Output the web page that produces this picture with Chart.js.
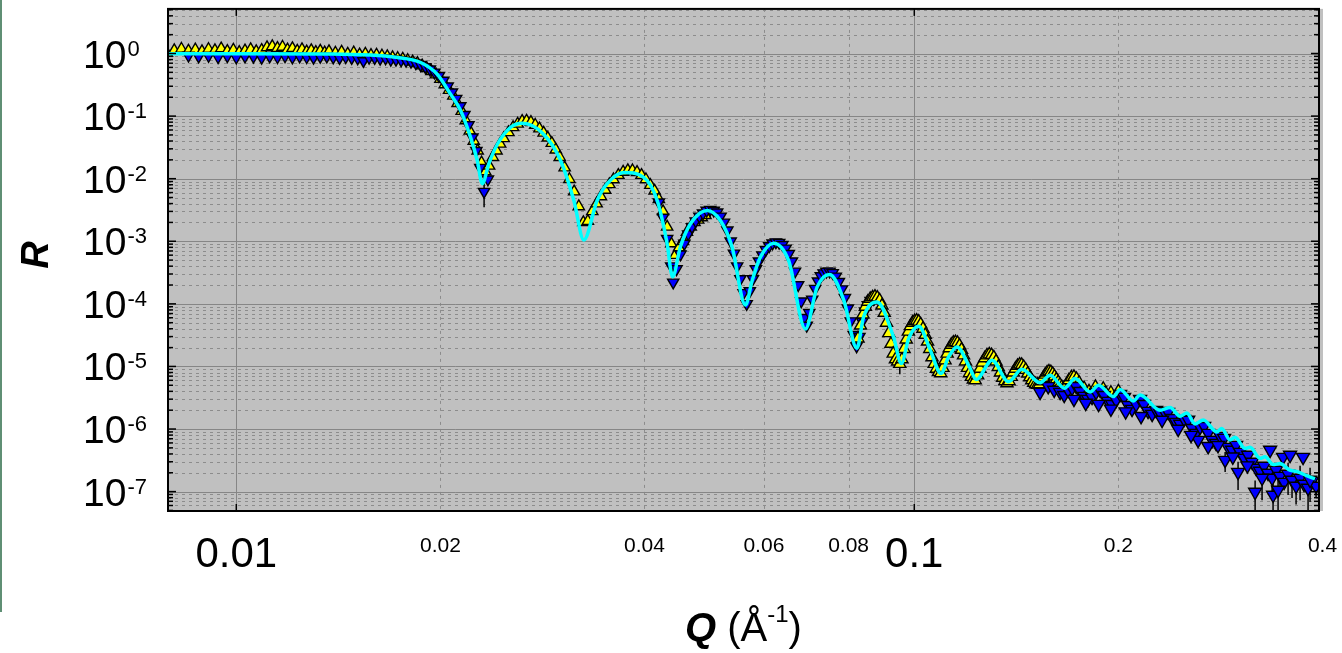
<!DOCTYPE html>
<html>
<head>
<meta charset="utf-8">
<script src="https://cdn.jsdelivr.net/npm/chart.js@4.4.1/dist/chart.umd.min.js"></script>
<style>
  html, body { margin: 0; padding: 0; background: #fff; }
</style>
</head>
<body>
<canvas id="reflChart" width="1342" height="653"></canvas>
<script>

// -------------------------
//   REFLECTIVITY RUNS
// -------------------------

// run 1 (yellow, low angle)
const yellowAQ = [0.0079, 0.0081, 0.0083, 0.0085, 0.0087, 0.0089, 0.0091, 0.0093, 0.0095, 0.0097,
    0.0099, 0.0101, 0.0103, 0.0105, 0.0107, 0.0109, 0.0111, 0.0113, 0.0115, 0.0117,
    0.0119, 0.0121, 0.0123, 0.0125, 0.0127, 0.0129, 0.0131, 0.0133, 0.0135, 0.0137,
    0.0140, 0.0143, 0.0146, 0.0149, 0.0152, 0.0155, 0.0158, 0.0161, 0.0164, 0.0167,
    0.0170, 0.0173, 0.0176, 0.0179, 0.0182, 0.0185, 0.0188, 0.0191, 0.0194, 0.0197,
    0.0200, 0.0203, 0.0206, 0.0209, 0.0212, 0.0215, 0.0218, 0.0221, 0.0224, 0.0227,
    0.0230, 0.0233, 0.0236, 0.0239, 0.0242, 0.0245, 0.0248, 0.0252, 0.0256, 0.0260,
    0.0264, 0.0268, 0.0272, 0.0276, 0.0280, 0.0284, 0.0288, 0.0292, 0.0296, 0.0300,
    0.0305, 0.0310, 0.0315, 0.0320, 0.0325, 0.0330, 0.0335, 0.0340, 0.0345, 0.0350,
    0.0355, 0.0360, 0.0366, 0.0372, 0.0378, 0.0384, 0.0390, 0.0396, 0.0402, 0.0408,
    0.0414, 0.0420, 0.0426, 0.0432, 0.0438, 0.0444, 0.0450, 0.0456, 0.0462, 0.0468,
    0.0474, 0.0480, 0.0486, 0.0492];
const yellowAR = [1.02, 1.12, 1.18, 1.10, 1.15, 1.08, 1.17, 1.12, 1.20, 1.09,
    1.14, 1.05, 1.11, 1.16, 1.08, 1.13, 1.25, 1.30, 1.22, 1.27,
    1.15, 1.21, 1.10, 1.16, 1.07, 1.12, 1.05, 1.10, 1.03, 1.08,
    1.02, 1.06, 0.99, 1.03, 0.96, 0.99, 0.94, 0.95, 0.92, 0.90,
    0.87, 0.84, 0.82, 0.78, 0.74, 0.70, 0.64, 0.58, 0.52, 0.46,
    0.39, 0.32, 0.26, 0.21, 0.16, 0.12, 0.085, 0.058, 0.040, 0.028,
    0.018, 0.013, 0.016, 0.022, 0.028, 0.036, 0.044, 0.055, 0.066, 0.075,
    0.083, 0.084, 0.080, 0.072, 0.063, 0.054, 0.045, 0.037, 0.029, 0.022,
    0.015, 0.0098, 0.0062, 0.0036, 0.0020, 0.0021, 0.0030, 0.0040, 0.0052, 0.0066,
    0.0081, 0.0097, 0.0114, 0.0128, 0.0136, 0.0135, 0.0127, 0.0114, 0.0097, 0.0079,
    0.0064, 0.0047, 0.0030, 0.0017, 0.00092, 0.00060, 0.00080, 0.0010, 0.0014, 0.0017,
    0.0020, 0.0022, 0.0024, 0.0026];

// run 2 (blue)
const blueAQ = [0.0085, 0.0088, 0.0091, 0.0094, 0.0097, 0.0100, 0.0103, 0.0106, 0.0109, 0.0112,
    0.0115, 0.0118, 0.0121, 0.0124, 0.0127, 0.0130, 0.0133, 0.0136, 0.0139, 0.0142,
    0.0145, 0.0148, 0.0151, 0.0154, 0.0157, 0.0160, 0.0163, 0.0166, 0.0169, 0.0172,
    0.0175, 0.0178, 0.0181, 0.0184, 0.0187, 0.0190, 0.0193, 0.0196, 0.0199, 0.0202,
    0.0205, 0.0208, 0.0211, 0.0214, 0.0217, 0.0220, 0.0223, 0.0226, 0.0229, 0.0232,
    0.0235,
    0.0420, 0.0426, 0.0432, 0.0438, 0.0441, 0.0446, 0.0452, 0.0458, 0.0464, 0.0470,
    0.0476, 0.0482, 0.0488, 0.0494, 0.0500, 0.0506, 0.0512, 0.0518, 0.0524, 0.0530,
    0.0536, 0.0542, 0.0548, 0.0554, 0.0560, 0.0566, 0.0572, 0.0578, 0.0584, 0.0590,
    0.0597, 0.0604, 0.0611, 0.0618, 0.0625, 0.0632, 0.0639, 0.0646, 0.0653, 0.0660,
    0.0667, 0.0674, 0.0681, 0.0688, 0.0694, 0.0700, 0.0707, 0.0714, 0.0721, 0.0728,
    0.0735, 0.0742, 0.0750, 0.0758, 0.0766, 0.0774, 0.0782, 0.0790, 0.0798, 0.0806,
    0.0814, 0.0822, 0.0830, 0.0838, 0.0846, 0.0854, 0.0862, 0.0870];
const blueAR = [0.93, 0.90, 0.92, 0.88, 0.91, 0.87, 0.90, 0.89, 0.86, 0.90,
    0.88, 0.91, 0.87, 0.90, 0.88, 0.86, 0.89, 0.90, 0.87, 0.85,
    0.88, 0.85, 0.84, 0.76, 0.86, 0.85, 0.83, 0.84, 0.80, 0.80,
    0.78, 0.77, 0.74, 0.70, 0.66, 0.61, 0.56, 0.50, 0.44, 0.37,
    0.30, 0.24, 0.19, 0.145, 0.105, 0.072, 0.046, 0.028, 0.015, 0.0062,
    0.0098,
    0.0042, 0.0024, 0.0011, 0.00040, 0.00022, 0.00036, 0.00062, 0.00092, 0.0013, 0.0017,
    0.0021, 0.0025, 0.0028, 0.0031, 0.0032, 0.0031, 0.0029, 0.0025, 0.0020, 0.0015,
    0.0010, 0.00064, 0.00040, 0.00025, 0.00015, 0.000100, 0.00016, 0.00025, 0.00036, 0.00048,
    0.00060, 0.00073, 0.00084, 0.00093, 0.00097, 0.00095, 0.00088, 0.00077, 0.00063, 0.00048,
    0.00033, 0.00020, 0.000110, 0.000060, 0.000045, 0.000072, 0.000118, 0.000175, 0.000230, 0.000278,
    0.000310, 0.000328, 0.000330, 0.000312, 0.000275, 0.000225, 0.000172, 0.000125, 0.000085, 0.000053,
    0.000032, 0.000021, 0.000030, 0.000052, 0.000076, 0.000096, 0.000112, 0.000120];

// run 3 (yellow)
const yellowBQ = [0.0826, 0.0833, 0.0840, 0.0847, 0.0854, 0.0861, 0.0868, 0.0875, 0.0882, 0.0889,
    0.0896, 0.0903, 0.0910, 0.0917, 0.0924, 0.0931, 0.0938, 0.0945, 0.0952, 0.0959,
    0.0966, 0.0973, 0.0980, 0.0987, 0.0994, 0.1001, 0.1008, 0.1015, 0.1022, 0.1030,
    0.1038, 0.1046, 0.1054, 0.1062, 0.1070, 0.1078, 0.1086, 0.1094, 0.1102, 0.1110,
    0.1118, 0.1126, 0.1134, 0.1142, 0.1150, 0.1158, 0.1166, 0.1174, 0.1182, 0.1190,
    0.1198, 0.1206, 0.1214, 0.1222, 0.1230, 0.1240, 0.1250, 0.1260, 0.1270, 0.1280,
    0.1290, 0.1300, 0.1310, 0.1320, 0.1330, 0.1340, 0.1350, 0.1360, 0.1370, 0.1380,
    0.1390, 0.1400, 0.1410, 0.1420, 0.1430, 0.1440, 0.1450, 0.1460, 0.1470, 0.1480,
    0.1490, 0.1500, 0.1510, 0.1520, 0.1530, 0.1540, 0.1550, 0.1560, 0.1570, 0.1580,
    0.1590, 0.1600, 0.1610, 0.1620, 0.1630, 0.1640, 0.1650, 0.1660, 0.1675, 0.1690,
    0.1705, 0.1720, 0.1735, 0.1750, 0.1780, 0.1810, 0.1850, 0.1900, 0.1950, 0.2000];
const yellowBR = [2.8e-5, 4.5e-5, 6.8e-5, 9.0e-5, 1.08e-4, 1.20e-4, 1.27e-4, 1.30e-4, 1.26e-4, 1.14e-4,
    9.4e-5, 7.2e-5, 5.0e-5, 3.4e-5, 2.3e-5, 1.6e-5, 1.3e-5, 1.2e-5, 1.1e-5, 1.3e-5,
    1.9e-5, 2.7e-5, 3.6e-5, 4.4e-5, 5.0e-5, 5.3e-5, 5.4e-5, 5.2e-5, 4.7e-5, 4.0e-5,
    3.2e-5, 2.5e-5, 1.9e-5, 1.4e-5, 1.1e-5, 9.2e-6, 8.2e-6, 7.8e-6, 9.5e-6, 1.25e-5,
    1.60e-5, 1.95e-5, 2.22e-5, 2.40e-5, 2.45e-5, 2.38e-5, 2.15e-5, 1.85e-5, 1.50e-5, 1.20e-5,
    9.5e-6, 7.8e-6, 6.8e-6, 6.2e-6, 6.0e-6, 7.2e-6, 9.2e-6, 1.15e-5, 1.35e-5, 1.50e-5,
    1.56e-5, 1.52e-5, 1.40e-5, 1.20e-5, 9.8e-6, 8.0e-6, 6.6e-6, 5.8e-6, 5.4e-6, 5.8e-6,
    6.8e-6, 8.0e-6, 9.2e-6, 1.02e-5, 1.07e-5, 1.06e-5, 9.8e-6, 8.8e-6, 7.7e-6, 6.7e-6,
    6.0e-6, 5.5e-6, 5.2e-6, 5.1e-6, 5.2e-6, 5.8e-6, 6.6e-6, 7.4e-6, 8.0e-6, 8.3e-6,
    8.1e-6, 7.6e-6, 6.9e-6, 6.2e-6, 5.6e-6, 5.1e-6, 4.7e-6, 4.5e-6, 5.0e-6, 6.0e-6,
    6.7e-6, 6.8e-6, 6.3e-6, 5.5e-6, 4.5e-6, 4.0e-6, 4.7e-6, 4.4e-6, 3.8e-6, 4.0e-6];

// run 4 (blue, high angle)
const blueBQ = [0.1533, 0.1576, 0.1608, 0.1641, 0.1664, 0.1686, 0.1709, 0.1733, 0.1756, 0.1780,
    0.1805, 0.1829, 0.1854, 0.1880, 0.1905, 0.1931, 0.1958, 0.1985, 0.2012, 0.2039,
    0.2067, 0.2095, 0.2124, 0.2153, 0.2182, 0.2212, 0.2243, 0.2273, 0.2305, 0.2336,
    0.2368, 0.2401, 0.2433, 0.2467, 0.2500, 0.2535, 0.2569, 0.2604, 0.2640, 0.2676,
    0.2713, 0.2750, 0.2787, 0.2825, 0.2864, 0.2903, 0.2943, 0.2983, 0.3024, 0.3065,
    0.3107, 0.3150, 0.3193, 0.3236, 0.3280, 0.3325, 0.3371, 0.3417, 0.3463, 0.3511,
    0.3559, 0.3607, 0.3657, 0.3707, 0.3757, 0.3809, 0.3861, 0.3914,
    0.2622, 0.2874, 0.3003, 0.3182, 0.3258, 0.3348, 0.3382, 0.3440, 0.3499, 0.3583,
    0.3745, 0.3835,
    0.1720, 0.1790, 0.1870, 0.1950, 0.2050, 0.2160, 0.2320, 0.2450, 0.2560, 0.2713,
    0.2805, 0.2950, 0.3100];
const blueBR = [3.9e-6, 4.8e-6, 4.2e-6, 3.88e-6, 3.47e-6, 4.17e-6, 4.49e-6, 4.83e-6, 4.02e-6, 3.35e-6,
    3.00e-6, 3.23e-6, 3.88e-6, 4.17e-6, 3.47e-6, 2.79e-6, 2.49e-6, 2.89e-6, 3.60e-6, 3.23e-6,
    2.40e-6, 2.08e-6, 2.49e-6, 3.00e-6, 2.49e-6, 1.93e-6, 1.73e-6, 2.00e-6, 1.79e-6, 1.93e-6,
    1.86e-6, 1.49e-6, 1.29e-6, 1.20e-6, 1.44e-6, 1.39e-6, 1.03e-6, 8.6e-7, 1.07e-6, 1.11e-6,
    8.6e-7, 6.65e-7, 5.96e-7, 7.7e-7, 7.16e-7, 5.14e-7, 4.61e-7, 5.54e-7, 4.28e-7, 3.43e-7,
    3.84e-7, 2.97e-7, 2.38e-7, 2.13e-7, 2.56e-7, 1.98e-7, 1.65e-7, 2.21e-7, 1.77e-7, 1.42e-7,
    1.91e-7, 1.53e-7, 1.23e-7, 1.65e-7, 1.32e-7, 1.14e-7, 1.48e-7, 1.23e-7,
    6.65e-7, 3.19e-7, 2.05e-7, 9.85e-8, 1.65e-7, 4.61e-7, 8.83e-8, 1.06e-7, 3.56e-7, 3.84e-7,
    3.56e-7, 1.53e-7,
    3.0e-6, 2.6e-6, 2.5e-6, 2.1e-6, 1.9e-6, 1.6e-6, 1.39e-6, 1.0e-6, 8.0e-7, 5.3e-7,
    5.5e-7, 3.6e-7, 2.6e-7];

// error bars that show beyond the markers (Q, lower R, upper R)
const barQ  = [0.0232, 0.0952, 0.2874, 0.3003, 0.3182, 0.3258, 0.3371, 0.3382, 0.3440, 0.3463,
    0.3559, 0.3607, 0.3657, 0.3707, 0.3809, 0.3835, 0.3914];
const barLo = [0.0035, 7.5e-6, 2.05e-7, 1.06e-7, 4.5e-8, 7.3e-8, 1.0e-7, 4.0e-8, 4.5e-8, 1.0e-7,
    8.8e-8, 7.9e-8, 6.2e-8, 7.3e-8, 5.0e-8, 6.8e-8, 8.2e-8];
const barHi = [0.0089, 1.45e-5, 4.3e-7, 3.0e-7, 1.5e-7, 2.6e-7, 2.3e-7, 1.4e-7, 1.7e-7, 2.5e-7,
    2.9e-7, 2.3e-7, 1.8e-7, 2.6e-7, 1.8e-7, 2.4e-7, 1.7e-7];

// model fit
const fitQ = [0.00793, 0.0100, 0.01378, 0.01729, 0.01870, 0.01978, 0.02070, 0.02142, 0.02216, 0.02267,
    0.02306, 0.02358, 0.02427, 0.02539, 0.02642, 0.02840, 0.03008, 0.03147, 0.03255, 0.03406,
    0.03524, 0.03730, 0.03990, 0.04177, 0.04320, 0.04400, 0.04518, 0.04676, 0.04949, 0.05176,
    0.05385, 0.05636, 0.05765, 0.05929, 0.06203, 0.06527, 0.06910, 0.07188, 0.07500, 0.07870,
    0.08230, 0.08418, 0.08810, 0.09320, 0.09570, 0.09810, 0.1015, 0.1056, 0.1095, 0.1123,
    0.1156, 0.1206, 0.1234, 0.1302, 0.1377, 0.1441, 0.1533, 0.1586, 0.1665, 0.1727,
    0.1817, 0.1869, 0.1966, 0.2012, 0.2104, 0.2153, 0.2304, 0.2384, 0.2466, 0.2523,
    0.2595, 0.2669, 0.2793, 0.2841, 0.2922, 0.2972, 0.3075, 0.3128, 0.3236, 0.3291,
    0.3384, 0.3462, 0.3581, 0.3664, 0.3790, 0.3899];
const fitR = [0.99, 0.99, 0.978, 0.863, 0.718, 0.468, 0.224, 0.123, 0.0457, 0.0195,
    0.0083, 0.0174, 0.0355, 0.0661, 0.0766, 0.0513, 0.0195, 0.00447, 0.00105, 0.00447,
    0.00832, 0.0126, 0.0105, 0.00447, 0.00091, 0.00027, 0.00081, 0.00190, 0.00309, 0.00214,
    0.00081, 9.55e-5, 2.34e-4, 5.57e-4, 9.33e-4, 4.89e-4, 3.98e-5, 1.85e-4, 2.95e-4, 1.15e-4,
    1.95e-5, 6.17e-5, 1.07e-4, 2.95e-5, 1.11e-5, 2.79e-5, 4.38e-5, 1.82e-5, 7.7e-6, 1.41e-5,
    2.05e-5, 9.8e-6, 6.2e-6, 1.26e-5, 5.7e-6, 9.0e-6, 5.5e-6, 7.2e-6, 4.5e-6, 6.4e-6,
    3.9e-6, 5.0e-6, 3.3e-6, 4.3e-6, 2.8e-6, 3.5e-6, 2.0e-6, 2.2e-6, 1.6e-6, 1.8e-6,
    1.2e-6, 1.4e-6, 9.0e-7, 1.02e-6, 6.7e-7, 7.4e-7, 4.9e-7, 5.1e-7, 3.4e-7, 3.6e-7,
    2.7e-7, 2.8e-7, 2.2e-7, 2.1e-7, 1.8e-7, 1.6e-7];

// axes
const qMin = 0.00793, qMax = 0.3953;
const rMin = 4.9e-8, rMax = 5.16;
const xMajorTicks = [0.01, 0.1];
const xMinorTicks = [0.02, 0.04, 0.06, 0.08, 0.2, 0.4];
const yDecades = [1, 1e-1, 1e-2, 1e-3, 1e-4, 1e-5, 1e-6, 1e-7];

const FONT = '"Liberation Sans", Arial, sans-serif';

// -------------------------

const toPoints = (qs, rs) => qs.map((q, i) => ({ x: q, y: rs[i] }));

function minorRValues() {
    const vals = [];
    for (const d of [10, ...yDecades, 1e-8]) {
        for (let m = 2; m <= 9; m++) {
            const v = m * d;
            if (v > rMin && v < rMax) vals.push(v);
        }
    }
    return vals;
}

function seg(ctx, x0, y0, x1, y1) {
    ctx.beginPath();
    ctx.moveTo(x0, y0);
    ctx.lineTo(x1, y1);
    ctx.stroke();
}

const plotFrame = {
    id: 'plotFrame',

    beforeDraw(chart) {
        const { ctx, chartArea: a } = chart;
        ctx.save();
        ctx.fillStyle = '#ffffff';
        ctx.fillRect(0, 0, chart.width, chart.height);
        ctx.fillStyle = '#5f8f74';
        ctx.fillRect(0, 0, 2, 612);
        ctx.fillStyle = '#c0c0c0';
        ctx.fillRect(a.left, a.top, a.right - a.left + 4, a.bottom - a.top);
        ctx.restore();
    },

    beforeDatasetsDraw(chart) {
        const { ctx, chartArea: a, scales: { x, y } } = chart;
        ctx.save();
        ctx.beginPath();
        ctx.rect(a.left, a.top, a.right - a.left, a.bottom - a.top);
        ctx.clip();

        // dotted minor grid
        ctx.lineWidth = 1;
        ctx.strokeStyle = '#8c8c8c';
        ctx.setLineDash([3, 4]);
        for (const v of minorRValues()) {
            const py = Math.round(y.getPixelForValue(v)) + 0.5;
            seg(ctx, a.left, py, a.right, py);
        }
        for (const v of xMinorTicks) {
            const px = Math.round(x.getPixelForValue(v)) + 0.5;
            seg(ctx, px, a.top, px, a.bottom);
        }

        // solid decade grid
        ctx.setLineDash([]);
        ctx.strokeStyle = '#868686';
        for (const v of yDecades) {
            const py = Math.round(y.getPixelForValue(v)) + 0.5;
            seg(ctx, a.left, py, a.right, py);
        }
        for (const v of xMajorTicks) {
            const px = Math.round(x.getPixelForValue(v)) + 0.5;
            seg(ctx, px, a.top, px, a.bottom);
        }

        // error bars, behind the markers
        ctx.strokeStyle = '#000000';
        ctx.lineWidth = 1.5;
        barQ.forEach((q, i) => {
            const px = x.getPixelForValue(q);
            seg(ctx, px, y.getPixelForValue(barLo[i]), px, y.getPixelForValue(barHi[i]));
        });
        ctx.restore();
    },

    afterDatasetsDraw(chart) {
        const { ctx, chartArea: a, scales: { x, y } } = chart;
        ctx.save();

        // frame
        ctx.strokeStyle = '#000000';
        ctx.lineWidth = 2;
        ctx.strokeRect(a.left, a.top, a.right - a.left, a.bottom - a.top);

        // inward tick marks on all four sides
        ctx.lineWidth = 1.5;
        for (const v of yDecades) {
            const py = y.getPixelForValue(v);
            seg(ctx, a.left, py, a.left + 8, py);
            seg(ctx, a.right, py, a.right - 8, py);
        }
        for (const v of minorRValues()) {
            const py = y.getPixelForValue(v);
            seg(ctx, a.left, py, a.left + 5, py);
            seg(ctx, a.right, py, a.right - 5, py);
        }
        for (const v of xMajorTicks) {
            const px = x.getPixelForValue(v);
            seg(ctx, px, a.top, px, a.top + 7);
            seg(ctx, px, a.bottom, px, a.bottom - 7);
        }
        ctx.restore();
    },

    afterDraw(chart) {
        const { ctx, chartArea: a, scales: { x, y } } = chart;
        ctx.save();
        ctx.fillStyle = '#000000';
        ctx.textBaseline = 'alphabetic';

        // y tick labels: 10 with raised exponent
        for (const v of yDecades) {
            const py = y.getPixelForValue(v);
            ctx.font = `39px ${FONT}`;
            ctx.textAlign = 'left';
            ctx.fillText('10', 83, py + 14);
            const w = ctx.measureText('10').width;
            ctx.font = `22px ${FONT}`;
            ctx.fillText(String(Math.round(Math.log10(v))), 83 + w + 1, py + 2);
        }

        // x tick labels
        ctx.textAlign = 'center';
        for (const v of xMajorTicks) {
            ctx.font = `42px ${FONT}`;
            ctx.fillText(String(v), x.getPixelForValue(v), 567);
        }
        for (const v of xMinorTicks) {
            ctx.font = `21px ${FONT}`;
            ctx.fillText(String(v), x.getPixelForValue(v), 552);
        }

        // x axis title: Q (Å^-1)
        const parts = [
            { t: 'Q', f: `italic bold 40px ${FONT}`, dy: 0 },
            { t: ' (Å', f: `40px ${FONT}`, dy: 0 },
            { t: '-1', f: `24px ${FONT}`, dy: -19 },
            { t: ')', f: `40px ${FONT}`, dy: 0 }
        ];
        let total = 0;
        for (const p of parts) { ctx.font = p.f; p.w = ctx.measureText(p.t).width; total += p.w; }
        let cx = (a.left + a.right) / 2 - total / 2;
        ctx.textAlign = 'left';
        for (const p of parts) {
            ctx.font = p.f;
            ctx.fillText(p.t, cx, 641 + p.dy);
            cx += p.w;
        }

        // y axis title
        ctx.translate(48, 255);
        ctx.rotate(-Math.PI / 2);
        ctx.textAlign = 'center';
        ctx.font = `italic bold 38px ${FONT}`;
        ctx.fillText('R', 0, 0);
        ctx.restore();
    }
};

// -------------------------

const markers = {
    type: 'scatter',
    showLine: false,
    pointStyle: 'triangle',
    pointBorderColor: '#000000',
    pointBorderWidth: 1.4
};

const ctx = document.getElementById('reflChart').getContext('2d');

const chart = new Chart(ctx, {
    type: 'scatter',
    data: {
        datasets: [
            {
                label: 'fit',
                type: 'line',
                data: toPoints(fitQ, fitR),
                borderColor: '#00ffff',
                borderWidth: 3.5,
                pointRadius: 0,
                fill: false,
                cubicInterpolationMode: 'monotone',
                order: 0
            },
            { ...markers, label: 'run 4', data: toPoints(blueBQ, blueBR),
              pointBackgroundColor: '#0000ff', pointRotation: 180, pointRadius: 7.5, order: 1 },
            { ...markers, label: 'run 3', data: toPoints(yellowBQ, yellowBR),
              pointBackgroundColor: '#ffff00', pointRadius: 7, order: 2 },
            { ...markers, label: 'run 2', data: toPoints(blueAQ, blueAR),
              pointBackgroundColor: '#0000ff', pointRotation: 180, pointRadius: 6.5, order: 3 },
            { ...markers, label: 'run 1', data: toPoints(yellowAQ, yellowAR),
              pointBackgroundColor: '#ffff00', pointRadius: 6.5, order: 4 }
        ]
    },
    options: {
        responsive: false,
        animation: false,
        layout: { padding: { left: 168, top: 8, right: 23, bottom: 142 } },
        plugins: { legend: { display: false }, tooltip: { enabled: false } },
        scales: {
            x: { type: 'logarithmic', min: qMin, max: qMax, display: false },
            y: { type: 'logarithmic', min: rMin, max: rMax, display: false }
        }
    },
    plugins: [plotFrame]
});
</script>
</body>
</html>
